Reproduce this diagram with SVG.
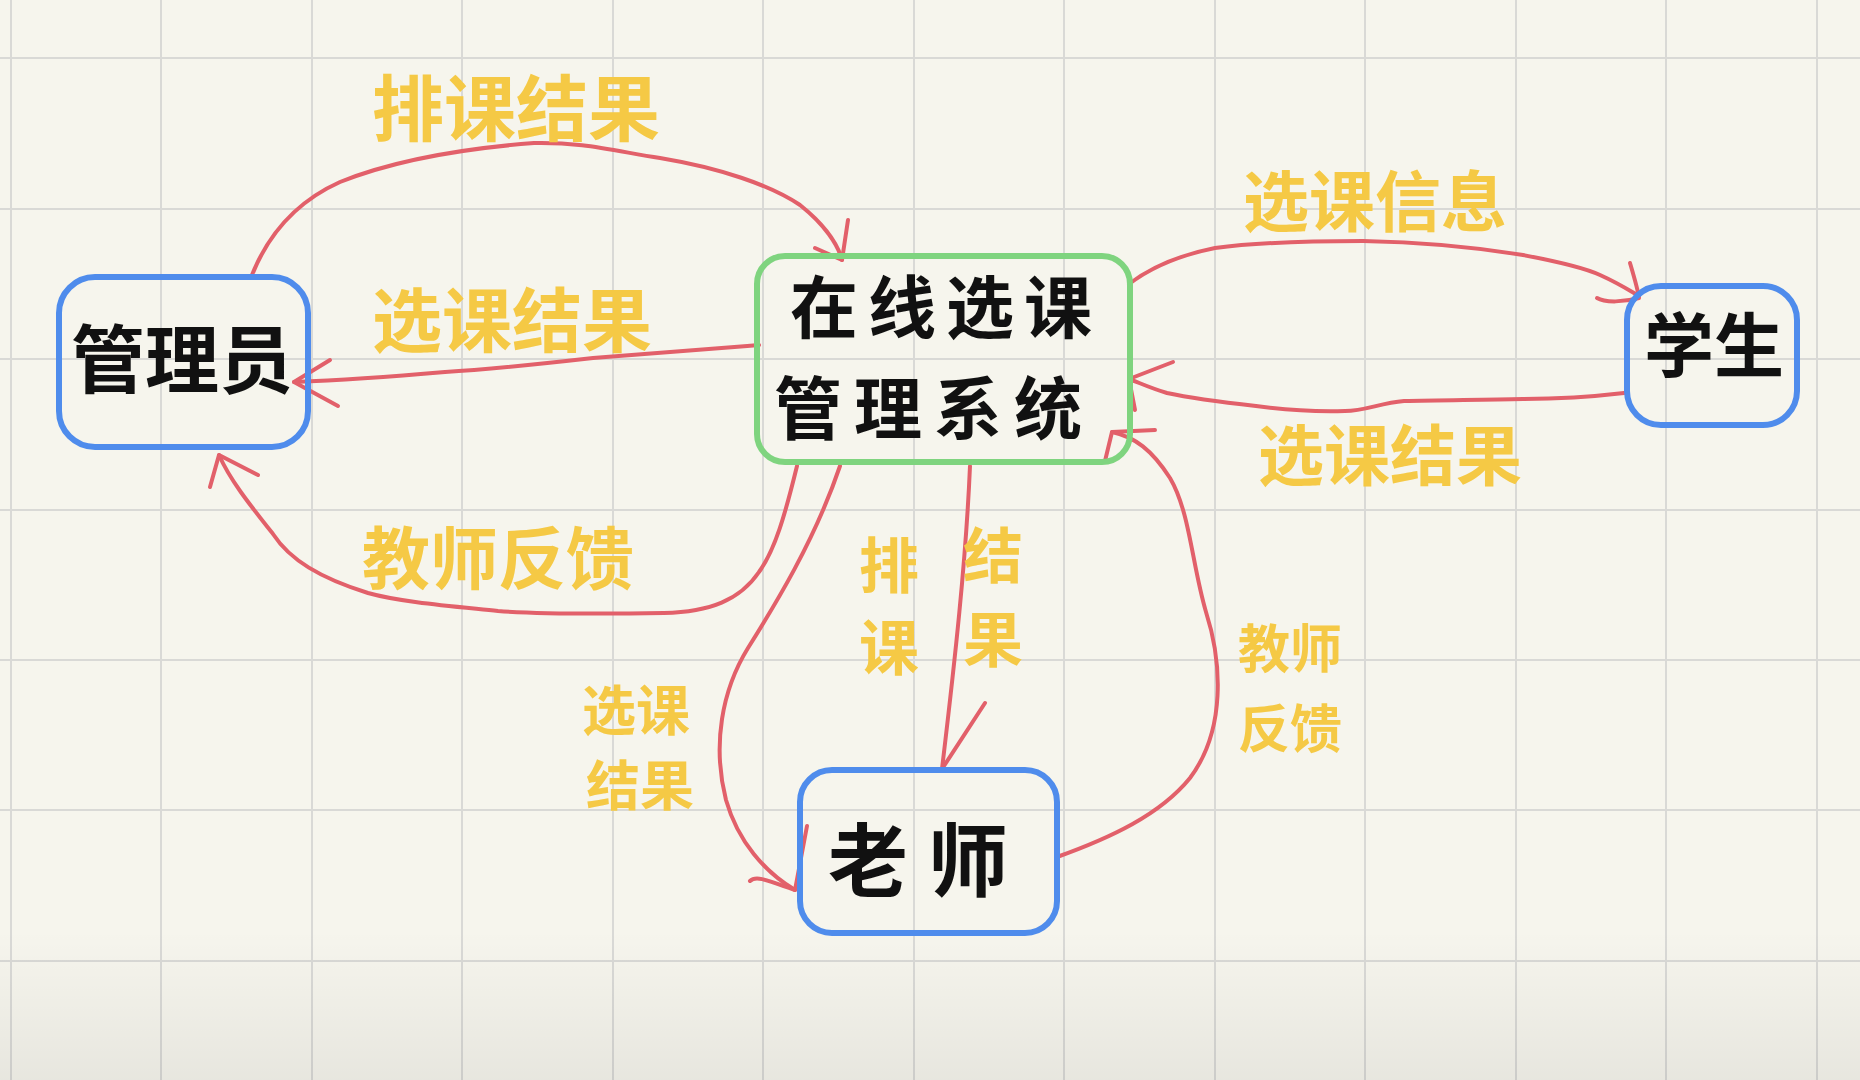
<svg xmlns="http://www.w3.org/2000/svg" width="1860" height="1080" viewBox="0 0 1860 1080">
<defs>
<style>
.grid line{stroke:#d9d9d6;stroke-width:2}
.conn path{fill:none;stroke:#e2606a;stroke-width:4;stroke-linecap:round;stroke-linejoin:round}
.box{fill:none;stroke-width:6;stroke-linejoin:round}
.blue{stroke:#4f8cec}
.green{stroke:#7fd47f}
.nt{font-family:"Noto Sans CJK SC","Noto Sans CJK JP",sans-serif;font-weight:700;fill:#111;text-anchor:middle}
.lb{font-family:"Noto Sans CJK SC","Noto Sans CJK JP",sans-serif;font-weight:700;fill:#f5c945;text-anchor:middle}
</style>
<linearGradient id="shade" x1="0" y1="0" x2="0" y2="1">
<stop offset="0" stop-color="#000" stop-opacity="0"/>
<stop offset="1" stop-color="#000" stop-opacity="0.06"/>
</linearGradient>
</defs>
<rect width="1860" height="1080" fill="#f6f5ed"/>
<g class="grid">
<line x1="11" y1="0" x2="11" y2="1080"/><line x1="161" y1="0" x2="161" y2="1080"/><line x1="312" y1="0" x2="312" y2="1080"/><line x1="462" y1="0" x2="462" y2="1080"/><line x1="613" y1="0" x2="613" y2="1080"/><line x1="763" y1="0" x2="763" y2="1080"/><line x1="914" y1="0" x2="914" y2="1080"/><line x1="1064" y1="0" x2="1064" y2="1080"/><line x1="1215" y1="0" x2="1215" y2="1080"/><line x1="1365" y1="0" x2="1365" y2="1080"/><line x1="1516" y1="0" x2="1516" y2="1080"/><line x1="1666" y1="0" x2="1666" y2="1080"/><line x1="1817" y1="0" x2="1817" y2="1080"/>
<line x1="0" y1="58" x2="1860" y2="58"/><line x1="0" y1="209" x2="1860" y2="209"/><line x1="0" y1="359" x2="1860" y2="359"/><line x1="0" y1="510" x2="1860" y2="510"/><line x1="0" y1="660" x2="1860" y2="660"/><line x1="0" y1="810" x2="1860" y2="810"/><line x1="0" y1="961" x2="1860" y2="961"/>
</g>
<rect x="0" y="930" width="1860" height="150" fill="url(#shade)"/>

<g class="conn">
<path d="M252,275 C270,230 300,200 340,182 C400,158 470,148 534,143 C580,142 610,150 660,158 C720,168 770,185 800,205 C825,225 838,245 842,260"/>
<path d="M815,248 L842,260 L848,220"/>
<path d="M759,345 C700,350 640,354 593,358 C540,364 480,370 445,372 C400,376 350,380 294,382"/>
<path d="M330,360 L294,382 L338,406"/>
<path d="M797,466 C785,515 775,550 759,572 C740,600 710,612 664,613 C600,614 540,614 498,611 C450,606 400,602 368,593 C320,578 290,560 273,534 C250,505 230,480 219,455"/>
<path d="M210,487 L219,455 L258,475"/>
<path d="M840,466 C815,540 775,605 748,648 C722,690 712,745 726,800 C738,842 765,872 795,890"/>
<path d="M750,881 C755,876 762,878 795,890 L807,826"/>
<path d="M970,466 C966,560 955,660 942,769"/>
<path d="M985,703 L942,769"/>
<path d="M1057,857 C1110,838 1160,815 1190,778 C1226,730 1222,662 1206,612 C1192,565 1190,512 1170,478 C1152,450 1135,437 1112,432"/>
<path d="M1155,430 L1112,432 L1105,461"/>
<path d="M1129,284 C1150,268 1180,255 1215,248 C1260,242 1310,241 1363,241 C1420,242 1480,248 1523,255 C1560,262 1585,268 1600,275 C1620,284 1632,292 1639,296"/>
<path d="M1630,263 C1635,280 1638,290 1639,298 C1625,302 1605,303 1597,298"/>
<path d="M1624,393 C1590,397 1560,399 1523,399 C1480,400 1440,400 1404,401 C1380,403 1365,411 1345,411 C1310,412 1285,410 1256,406 C1220,402 1190,398 1167,393 C1150,388 1140,383 1129,379"/>
<path d="M1173,362 L1129,379 L1135,410"/>
</g>

<g id="admin">
<rect class="box blue" x="59" y="277" width="249" height="170" rx="36"/>
<text class="nt" x="182" y="387" font-size="74">管理员</text>
</g>
<g id="system">
<rect class="box green" x="757" y="256" width="373" height="206" rx="28"/>
<text class="nt" x="946" y="333" font-size="68" letter-spacing="10">在线选课</text>
<text class="nt" x="934" y="434" font-size="68" letter-spacing="12">管理系统</text>
</g>
<g id="student">
<rect class="box blue" x="1627" y="286" width="170" height="139" rx="34"/>
<text class="nt" x="1714" y="372" font-size="70">学生</text>
</g>
<g id="teacher">
<rect class="box blue" x="800" y="770" width="257" height="163" rx="32"/>
<text class="nt" x="928" y="890" font-size="80" letter-spacing="20">老师</text>
</g>

<g id="labels">
<text class="lb" x="516" y="135" font-size="72">排课结果</text>
<text class="lb" x="512" y="347" font-size="70">选课结果</text>
<text class="lb" x="498" y="584" font-size="68">教师反馈</text>
<text class="lb" x="636" y="731" font-size="54">选课</text>
<text class="lb" x="640" y="806" font-size="54">结果</text>
<text class="lb" x="889" y="588" font-size="60">排</text>
<text class="lb" x="889" y="670" font-size="60">课</text>
<text class="lb" x="993" y="578" font-size="60">结</text>
<text class="lb" x="993" y="662" font-size="60">果</text>
<text class="lb" x="1290" y="668" font-size="52">教师</text>
<text class="lb" x="1290" y="748" font-size="52">反馈</text>
<text class="lb" x="1375" y="226" font-size="66">选课信息</text>
<text class="lb" x="1390" y="480" font-size="66">选课结果</text>
</g>
</svg>
